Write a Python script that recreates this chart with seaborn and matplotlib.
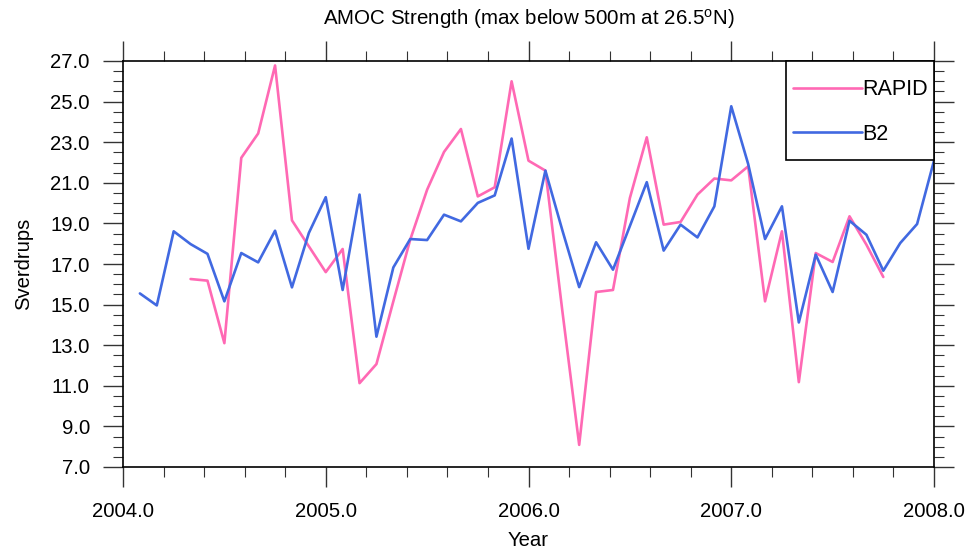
import numpy as np
import pandas as pd
import matplotlib
matplotlib.use("Agg")
import matplotlib.pyplot as plt
from matplotlib.ticker import MultipleLocator, FormatStrFormatter
from matplotlib.patches import Rectangle
import seaborn as sns

# ---- data (Sverdrups), monthly ----
b2_months = list(range(1, 49))          # months after Jan 2004 (i/12 years)
b2_values = [15.55, 14.96, 18.61, 17.98, 17.50, 15.16, 17.54, 17.08, 18.64, 15.85,
             18.53, 20.29, 15.72, 20.42, 13.42, 16.83, 18.23, 18.18, 19.43, 19.10,
             20.01, 20.38, 23.18, 17.75, 21.60, 18.67, 15.86, 18.07, 16.72, 18.87,
             21.03, 17.66, 18.94, 18.31, 19.84, 24.77, 21.93, 18.23, 19.84, 14.12,
             17.46, 15.62, 19.13, 18.44, 16.67, 18.03, 18.97, 22.09]
rapid_months = list(range(4, 46))
rapid_values = [16.26, 16.18, 13.10, 22.23, 23.43, 26.78, 19.15, 17.87, 16.60, 17.74,
                11.13, 12.07, 15.16, 18.20, 20.66, 22.52, 23.65, 20.33, 20.78, 26.00,
                22.09, 21.60, 14.71, 8.09, 15.62, 15.72, 20.25, 23.24, 18.94, 19.07,
                20.42, 21.21, 21.12, 21.81, 15.16, 18.61, 11.18, 17.54, 17.10, 19.35,
                17.95, 16.36]
series_names = ["RAPID", "B2"]
series_colors = {"RAPID": "#FF69B4", "B2": "#4169E1"}
x_ticks = [2004.0, 2005.0, 2006.0, 2007.0, 2008.0]
y_ticks = [7.0, 9.0, 11.0, 13.0, 15.0, 17.0, 19.0, 21.0, 23.0, 25.0, 27.0]
title_text = r"AMOC Strength (max below 500m at 26.5$^{\mathrm{o}}$N)"
x_label = "Year"
y_label = "Sverdrups"

df = pd.concat([
    pd.DataFrame({"year": 2004 + np.array(rapid_months) / 12.0,
                  "value": rapid_values, "series": "RAPID"}),
    pd.DataFrame({"year": 2004 + np.array(b2_months) / 12.0,
                  "value": b2_values, "series": "B2"}),
], ignore_index=True)

sns.set_theme(style="ticks")
plt.rcParams["font.family"] = ["Liberation Sans", "DejaVu Sans"]
plt.rcParams["mathtext.fontset"] = "custom"
plt.rcParams["mathtext.rm"] = "Liberation Sans"
plt.rcParams["mathtext.it"] = "Liberation Sans:italic"
plt.rcParams["mathtext.bf"] = "Liberation Sans:bold"
plt.rcParams["text.color"] = "black"
plt.rcParams["axes.labelcolor"] = "black"
plt.rcParams["xtick.labelcolor"] = "black"
plt.rcParams["ytick.labelcolor"] = "black"

fig = plt.figure(figsize=(9.67, 5.51), dpi=100)
ax = fig.add_axes([123 / 967, 1 - 467 / 551, (934 - 123) / 967, (467 - 61) / 551])

sns.lineplot(data=df, x="year", y="value", hue="series", hue_order=series_names,
             palette=series_colors, linewidth=1.9, ax=ax, legend=True, sort=True)

ax.set_xlim(x_ticks[0], x_ticks[-1])
ax.set_ylim(y_ticks[0], y_ticks[-1])
ax.set_xticks(x_ticks)
ax.set_yticks(y_ticks)
ax.xaxis.set_major_formatter(FormatStrFormatter("%.1f"))
ax.yaxis.set_major_formatter(FormatStrFormatter("%.1f"))
ax.xaxis.set_minor_locator(MultipleLocator(0.2))
ax.yaxis.set_minor_locator(MultipleLocator(0.5))

for s in ax.spines.values():
    s.set_visible(True)
    s.set_linewidth(1.2)
    s.set_color("black")
ax.tick_params(which="both", direction="out", top=True, right=True,
               labeltop=False, labelright=False, color="#333333")
ax.tick_params(which="major", length=14.4, width=1.0, labelsize=14.6)
ax.tick_params(axis="x", which="major", pad=11.0)
ax.tick_params(axis="y", which="major", pad=9.5)
ax.tick_params(which="minor", length=7.2, width=0.8)

ax.set_xlabel(x_label, fontsize=14.6, labelpad=7)
ax.set_ylabel(y_label, fontsize=14.6, labelpad=12.5)
ax.set_title(title_text, fontsize=14.8, pad=26)

# legend in a box at the upper right
leg = ax.legend(loc="upper right", bbox_to_anchor=(1.0 - 4.0 / 811, 1.0 - 16.0 / 406),
                frameon=False, fontsize=15.5, handlelength=3.2, handletextpad=0.0,
                labelspacing=1.1, borderpad=0.1, borderaxespad=0.0)
for line in leg.get_lines():
    line.set_linewidth(1.9)
ax.add_patch(Rectangle((0.8175, 0.756), 0.1825, 0.244, transform=ax.transAxes,
                       facecolor="white", edgecolor="black", linewidth=1.2,
                       zorder=4, clip_on=False))
leg.set_zorder(5)

fig.savefig("out.png", dpi=100)
